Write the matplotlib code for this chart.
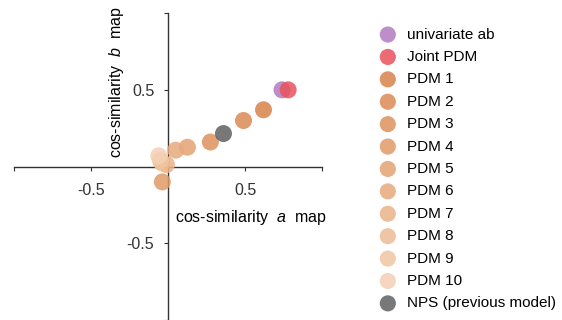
"""Cosine similarity of model maps, a vs b."""

import matplotlib
matplotlib.use("Agg")
import matplotlib.pyplot as plt

labels = ["univariate ab", "Joint PDM", "PDM 1", "PDM 2", "PDM 3", "PDM 4", "PDM 5",
          "PDM 6", "PDM 7", "PDM 8", "PDM 9", "PDM 10", "NPS (previous model)"]
cos_a = [0.74, 0.78, 0.62, 0.49, 0.275, -0.037, 0.126, 0.05, -0.01, -0.04, -0.05, -0.06, 0.36]
cos_b = [0.50, 0.50, 0.37, 0.30, 0.16, -0.10, 0.126, 0.107, 0.013, 0.024, 0.04, 0.07, 0.215]
colors = ["#b27cc0", "#e9525d", "#d9834a", "#db8a55", "#de915e", "#e19a68", "#e4a272",
          "#e7aa7d", "#eab388", "#edbc95", "#f0c6a4", "#f4d1b6", "#616161"]

plt.rcParams["font.family"] = ["Liberation Sans", "DejaVu Sans"]
plt.rcParams["mathtext.fontset"] = "custom"
plt.rcParams["mathtext.it"] = "Liberation Sans:italic"
plt.rcParams["mathtext.rm"] = "Liberation Sans"

fig = plt.figure(figsize=(5.62, 3.2), dpi=100)
ax = fig.add_axes([0.025, 0.0, 0.548, 0.959])

for lab, x, y, c in zip(labels, cos_a, cos_b, colors):
    ax.scatter(x, y, s=150, color=c, alpha=0.85, edgecolors="none", label=lab, zorder=3)

ax.set_xlim(-1, 1)
ax.set_ylim(-1, 1)
for side in ["top", "right"]:
    ax.spines[side].set_visible(False)
for side in ["left", "bottom"]:
    ax.spines[side].set_position("zero")
    ax.spines[side].set_color("#333333")
    ax.spines[side].set_linewidth(1.0)

ticks = [-1, -0.5, 0.5, 1]
tick_labels = ["", "-0.5", "0.5", ""]
ax.set_xticks(ticks, tick_labels)
ax.set_yticks(ticks, tick_labels)
ax.tick_params(colors="#333333", labelsize=11.5, length=3, pad=7)
ax.tick_params(axis="x", pad=9)

ax.text(0.046, -0.33, "cos-similarity  $a$  map", ha="left", va="center", fontsize=11.5)
ax.text(-0.333, 0.55, "cos-similarity  $b$  map", ha="center", va="center",
        rotation=90, fontsize=11.5)

fig.legend(loc="upper left", bbox_to_anchor=(0.652, 0.933), frameon=False, fontsize=11,
           handletextpad=0.25, labelspacing=0.55, markerscale=0.95, borderaxespad=0)

fig.savefig("out.png", dpi=100)
